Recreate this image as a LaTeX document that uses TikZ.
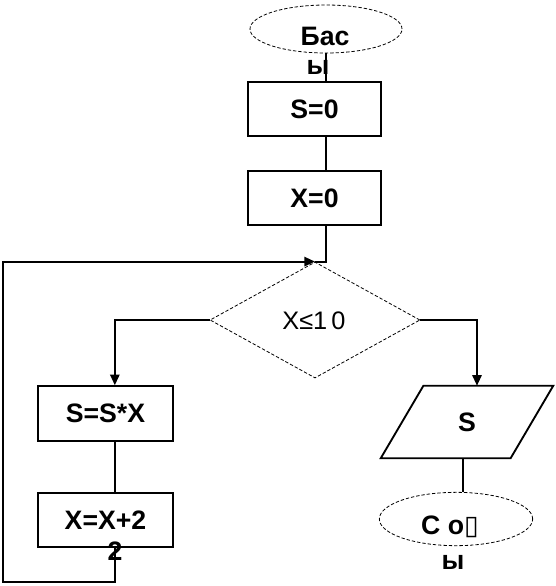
\documentclass[tikz,border=0pt]{standalone}
\usepackage{fontspec}
\setmainfont{Liberation Sans}
\newfontfamily\symfont{DejaVu Sans}
\usetikzlibrary{shapes.geometric,arrows.meta}

\tikzset{
  ln/.style={line width=1.4pt},
  arr/.style={ln, -{Triangle[length=8pt,width=7pt]}},
  blk/.style={draw, ln, minimum width=100pt, minimum height=40pt, inner sep=0pt},
  term/.style={draw, dash pattern=on 2.5pt off 1.5pt, ellipse, line width=0.6pt, inner sep=0pt},
  txt/.style={inner sep=0pt, font=\bfseries\fontsize{20}{24}\selectfont}
}

\begin{document}
\begin{tikzpicture}[x=0.75pt, y=-0.75pt]
\useasboundingbox (0,0) rectangle (556,586);
% start
\node[term, minimum width=114pt, minimum height=36pt] (start) at (326,29) {};
\node[txt] (startA) at (325,36) {Бас};
\node[txt] (startB) at (318,67) {ы};
% init
\node[blk, txt] (s0) at (314.5,109) {S=0};
\node[blk, txt] (x0) at (314.5,198) {X=0};
% decision
\node[draw, dash pattern=on 2.5pt off 1.5pt, diamond, line width=0.6pt, minimum width=157.5pt, minimum height=87pt, inner sep=0pt] (dec) at (315,320) {};
\node[inner sep=0pt, font=\fontsize{19}{22}\selectfont] (cond) at (314,321) {X≤1\,0};
% loop body
\node[blk, txt, minimum width=101pt, minimum height=41pt] (mul) at (105.5,413.5) {S=S*X};
\node[blk, txt, minimum width=101pt, minimum height=41pt] (inc) at (105.5,520) {X=X+2};
\node[txt] (incB) at (115,551) {2};
\coordinate (lb) at (3,582);
% output
\node[inner sep=0pt, minimum width=97pt, minimum height=54pt, txt] (out) at (467,422) {S};
\draw[ln] ([xshift=16pt]out.north west) -- ([xshift=16pt]out.north east)
  -- ([xshift=-16pt]out.south east) -- ([xshift=-16pt]out.south west) -- cycle;
% end
\node[term, minimum width=115pt, minimum height=40pt] (end) at (456,519) {};
\node[txt] (endA) at (450,527) {С о{\symfont ▯}};
\node[txt] (endB) at (453,562) {ы};

% connectors
\draw[ln] (start.south) -- (start.south |- s0.north);
\draw[ln] (start.south |- s0.south) -- (start.south |- x0.north);
\draw[ln] (start.south |- x0.south) |- (dec.north);
\draw[arr] (dec.west) -| ([xshift=7pt]mul.north);
\draw[ln] ([xshift=7pt]mul.south) -- ([xshift=7pt]inc.north);
\draw[arr] ([xshift=7pt]inc.south) |- (lb) |- (dec.north);
\draw[arr] (dec.east) -| ([xshift=7.5pt]out.north);
\draw[ln] ([xshift=-3pt]out.south) -- ([xshift=-3pt]out.south |- end.north);
\end{tikzpicture}
\end{document}
